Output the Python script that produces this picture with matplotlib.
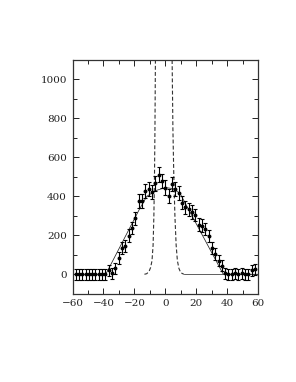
import matplotlib
matplotlib.use("Agg")
import matplotlib.pyplot as plt
from matplotlib.ticker import MultipleLocator

# --- data ---
x_data = [-58.05, -55.9, -53.75, -51.6, -49.45, -47.3, -45.15, -43.0, -40.85, -38.7,
          -36.55, -34.4, -32.25, -30.1, -27.95, -25.8, -23.65, -21.5, -19.35, -17.2,
          -15.05, -12.9, -10.75, -8.6, -6.45, -4.3, -2.15, 0.0, 2.15, 4.3,
          6.45, 8.6, 10.75, 12.9, 15.05, 17.2, 19.35, 21.5, 23.65, 25.8,
          27.95, 30.1, 32.25, 34.4, 36.55, 38.7, 40.85, 43.0, 45.15, 47.3,
          49.45, 51.6, 53.75, 55.9, 58.05]
y_data = [0, 0, 0, 0, 0, 0, 0, 0, 0, 0,
          20, 5, 30, 84, 134, 144, 198, 237, 287, 376,
          376, 428, 436, 422, 466, 512, 478, 445, 402, 461,
          440, 419, 368, 343, 334, 320, 305, 255, 250, 232,
          195, 134, 105, 70, 45, 5, 0, 0, 5, 0,
          5, 0, 0, 20, 25]
y_err = [28, 28, 28, 28, 28, 28, 28, 28, 28, 28,
         28, 28, 28, 30, 30, 30, 32, 32, 32, 34,
         34, 34, 36, 36, 36, 37, 37, 37, 36, 36,
         36, 36, 34, 34, 34, 34, 32, 32, 32, 32,
         30, 30, 30, 28, 28, 28, 28, 28, 28, 28,
         28, 28, 28, 28, 28]

# model curve (solid)
x_model = [-60, -38.5, -17, -12, -6, 0, 5, 9.5, 37.5, 60]
y_model = [0, 0, 330, 400, 430, 445, 440, 415, 0, 0]

# narrow peak (dashed) and its flat tail (solid)
x_peak = [-13.5, -12, -10.5, -9.5, -8.6, -7.9, -7.4, -7.0, -6.7, -6.4, -6.0, -1.0,
          4.0, 4.4, 4.9, 5.5, 6.2, 7.0, 7.8, 8.8, 10.0, 12.0]
y_peak = [0, 3, 15, 35, 70, 150, 300, 500, 750, 1100, 1500, 3000,
          1500, 1100, 750, 500, 300, 150, 70, 30, 8, 0]
x_tail = [12.0, 60.0]
y_tail = [0, 0]

x_ticks = [-60, -40, -20, 0, 20, 40, 60]
y_ticks = [0, 200, 400, 600, 800, 1000]

fig = plt.figure(figsize=(2.96, 3.82), dpi=100)
ax = fig.add_axes([0.245, 0.231, 0.627, 0.612])

ax.plot(x_model, y_model, color="#222222", lw=0.55)
ax.plot(x_peak, y_peak, color="#333333", lw=0.8, linestyle=(0, (3.5, 2.0)))
ax.plot(x_tail, y_tail, color="#444444", lw=0.6)
ax.errorbar(x_data, y_data, yerr=y_err, fmt="o", ms=1.8, color="black",
            ecolor="black", elinewidth=0.8, capsize=1.6, capthick=0.8)

ax.set_xlim(-60, 60)
ax.set_ylim(-100, 1100)
ax.set_xticks(x_ticks)
ax.set_yticks(y_ticks)
ax.xaxis.set_minor_locator(MultipleLocator(10))
ax.yaxis.set_minor_locator(MultipleLocator(100))
ax.tick_params(which="both", direction="in", top=True, right=True,
               width=0.7, labelsize=7.5, pad=4, colors="#222222")
ax.tick_params(which="major", length=4)
ax.tick_params(which="minor", length=3)
for lab in ax.get_xticklabels() + ax.get_yticklabels():
    lab.set_fontfamily("DejaVu Serif")
for s in ax.spines.values():
    s.set_linewidth(0.9)
    s.set_color("#333333")

fig.savefig("out.png", dpi=100)
